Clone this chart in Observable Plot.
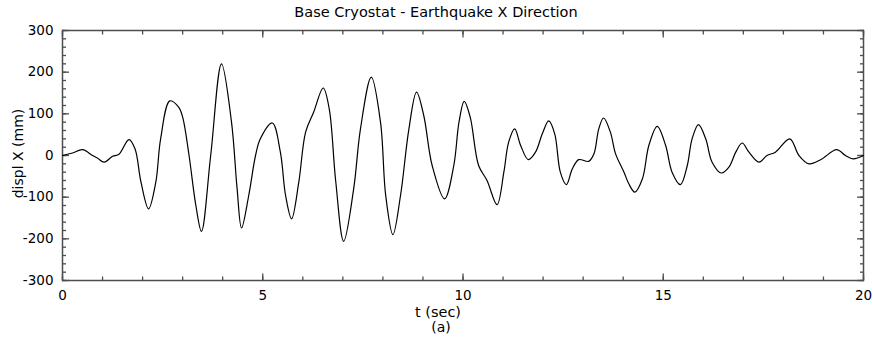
<!DOCTYPE html>
<html>
<head>
<meta charset="utf-8">
<script src="https://cdn.jsdelivr.net/npm/d3@7"></script>
<script src="https://cdn.jsdelivr.net/npm/@observablehq/plot@0.6"></script>
<style>
  html, body { margin: 0; padding: 0; background: #fff; }
  #chart svg { display: block; }
</style>
</head>
<body>
<div id="chart"></div>
<script>
// Time samples (s) and X displacement (mm) of the base cryostat under the earthquake record
const timeSec = [0, 0.25, 0.5, 0.75, 0.87, 1.04, 1.25, 1.41, 1.66, 1.81, 1.96, 2.15, 2.33, 2.45, 2.68, 2.9, 3.0, 3.16, 3.33, 3.47,
  3.7, 3.97, 4.22, 4.36, 4.47, 4.65, 4.82, 4.94, 5.24, 5.44, 5.57, 5.72, 5.9, 6.07, 6.27, 6.51, 6.66, 6.82, 7.02, 7.27,
  7.44, 7.71, 7.94, 8.07, 8.25, 8.44, 8.65, 8.84, 9.02, 9.23, 9.54, 9.77, 9.9, 10.03, 10.18, 10.39, 10.6, 10.85, 11.02, 11.14,
  11.29, 11.44, 11.63, 11.81, 11.98, 12.14, 12.29, 12.43, 12.58, 12.73, 12.89, 13.14, 13.27, 13.39, 13.51, 13.68, 13.81, 14.02, 14.14, 14.29,
  14.48, 14.64, 14.85, 15.06, 15.22, 15.43, 15.6, 15.72, 15.88, 16.06, 16.22, 16.45, 16.64, 16.81, 16.97, 17.14, 17.39, 17.59, 17.8, 18.16,
  18.39, 18.64, 18.93, 19.33, 19.55, 19.74, 20];
const displX = [0, 6, 14, 0, -6, -16, -2, 3, 38, 16, -64, -128, -64, 40, 131, 116, 92, 0, -120, -182,
  0, 220, 80, -80, -174, -96, 0, 40, 78, 8, -96, -152, -64, 56, 104, 162, 112, -60, -206, -80,
  64, 188, 80, -96, -190, -96, 64, 152, 96, -24, -104, -24, 80, 130, 92, -24, -60, -118, -40, 32,
  64, 24, -10, 8, 52, 83, 52, -40, -70, -32, -10, -14, 4, 64, 90, 56, 4, -40, -68, -88,
  -56, 24, 70, 24, -40, -70, -24, 40, 74, 40, -16, -42, -28, 8, 30, 8, -16, 0, 8, 40,
  0, -20, -10, 14, 0, -8, 0];

// Axis ticks and labels
const xMajorTicks = [0, 5, 10, 15, 20];
const xMinorTicks = d3.range(0, 21, 1);
const yMajorTicks = [-300, -200, -100, 0, 100, 200, 300];
const yMinorTicks = d3.range(-300, 301, 20);

const titleText = "Base Cryostat - Earthquake X Direction";
const xLabel = "t (sec)";
const yLabel = "displ X (mm)";
const panelTag = "(a)";

const series = timeSec.map((t, i) => ({t, v: displX[i]}));

const frameColor = "#4d4d4d";
const centerShift = -25;
const plainNumber = d => String(d); // ASCII hyphen for negatives

const chart = Plot.plot({
  width: 873,
  height: 346,
  marginLeft: 62,
  marginRight: 10,
  marginTop: 30,
  marginBottom: 66,
  style: {fontFamily: "'DejaVu Sans', sans-serif", fontSize: "13.5px", color: "#000", background: "#fff"},
  x: {domain: [0, 20]},
  y: {domain: [-300, 300]},
  marks: [
    // inward tick marks on all four sides
    Plot.axisX(xMinorTicks, {anchor: "bottom", tickSize: -3.5, fill: "none", stroke: frameColor, strokeWidth: 1.3, label: null}),
    Plot.axisX(xMajorTicks, {anchor: "bottom", tickSize: -6.5, fill: "none", stroke: frameColor, strokeWidth: 1.3, label: null}),
    Plot.axisX(xMinorTicks, {anchor: "top", tickSize: -3.5, fill: "none", stroke: frameColor, strokeWidth: 1.3, label: null}),
    Plot.axisX(xMajorTicks, {anchor: "top", tickSize: -6.5, fill: "none", stroke: frameColor, strokeWidth: 1.3, label: null}),
    Plot.axisY(yMinorTicks, {anchor: "left", tickSize: -4, fill: "none", stroke: frameColor, strokeWidth: 1.3, label: null}),
    Plot.axisY(yMajorTicks, {anchor: "left", tickSize: -7, fill: "none", stroke: frameColor, strokeWidth: 1.3, label: null}),
    Plot.axisY(yMinorTicks, {anchor: "right", tickSize: -4, fill: "none", stroke: frameColor, strokeWidth: 1.3, label: null}),
    Plot.axisY(yMajorTicks, {anchor: "right", tickSize: -7, fill: "none", stroke: frameColor, strokeWidth: 1.3, label: null}),
    // tick labels
    Plot.axisX(xMajorTicks, {anchor: "bottom", tickSize: 0, tickPadding: 10, stroke: "none", fill: "#000", label: null, tickFormat: plainNumber}),
    Plot.axisY(yMajorTicks, {anchor: "left", tickSize: 0, tickPadding: 9, stroke: "none", fill: "#000", label: null, tickFormat: plainNumber}),
    Plot.frame({stroke: frameColor, strokeWidth: 1.5}),
    // displacement trace
    Plot.line(series, {x: "t", y: "v", stroke: "#000", strokeWidth: 1.2, curve: "catmull-rom"}),
    // titles
    Plot.text([titleText], {text: d => d, frameAnchor: "top", lineAnchor: "middle", dx: centerShift - 2, dy: -18, fill: "#000", fontSize: 14.5}),
    Plot.text([xLabel], {text: d => d, frameAnchor: "bottom", lineAnchor: "middle", dx: centerShift, dy: 32, fill: "#000", fontSize: 14.5}),
    Plot.text([panelTag], {text: d => d, frameAnchor: "bottom", lineAnchor: "middle", dx: centerShift + 3, dy: 47, fill: "#000", fontSize: 14}),
    Plot.text([yLabel], {text: d => d, frameAnchor: "left", textAnchor: "middle", lineAnchor: "middle", rotate: -90, dx: -44, dy: -2, fill: "#000", fontSize: 14})
  ]
});

document.getElementById("chart").appendChild(chart);
</script>
</body>
</html>
